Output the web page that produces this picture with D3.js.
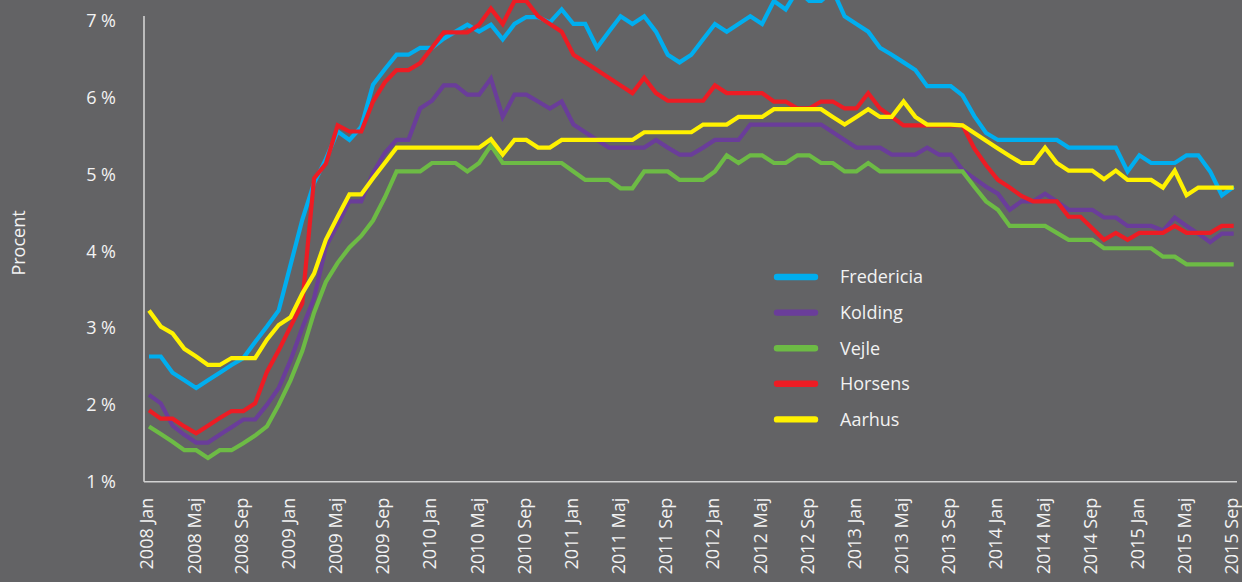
<!DOCTYPE html>
<html>
<head>
<meta charset="utf-8">
<script src="https://cdn.jsdelivr.net/npm/d3@7"></script>
<style>
  body { margin: 0; background: #636365; overflow: hidden; }
  svg { display: block; }
  text { font-family: "Open Sans", sans-serif; fill: #f2f2f2; }
</style>
</head>
<body>
<div id="chart"></div>
<script>
// Danish month names, years -> monthly categories 2008 Jan .. 2015 Sep
var monthNames = ["Jan", "Feb", "Mar", "Apr", "Maj", "Jun", "Jul", "Aug", "Sep", "Okt", "Nov", "Dec"];
var years = [2008, 2009, 2010, 2011, 2012, 2013, 2014, 2015];
var lastMonthOf2015 = 8; // Sep

// y axis ticks (percent)
var yTicks = [1, 2, 3, 4, 5, 6, 7];

// series names / colours (legend order, also draw order)
var cityNames = ["Fredericia", "Kolding", "Vejle", "Horsens", "Aarhus"];
var cityColors = ["#00aeef", "#6a3d9a", "#6dbb45", "#ed1c24", "#fff200"];

// values, one per month
var fredericia = [2.63, 2.63, 2.42, 2.32, 2.22, 2.32, 2.42, 2.52, 2.61, 2.82,
    3.02, 3.23, 3.82, 4.41, 4.89, 5.2, 5.56, 5.45, 5.62, 6.17,
    6.37, 6.56, 6.56, 6.65, 6.65, 6.77, 6.86, 6.95, 6.86, 6.95,
    6.76, 6.96, 7.05, 7.05, 6.98, 7.15, 6.96, 6.96, 6.65, 6.86,
    7.06, 6.96, 7.06, 6.86, 6.56, 6.46, 6.56, 6.76, 6.96, 6.86,
    6.96, 7.06, 6.96, 7.26, 7.15, 7.4, 7.26, 7.26, 7.4, 7.06,
    6.96, 6.86, 6.65, 6.56, 6.46, 6.36, 6.15, 6.15, 6.15, 6.03,
    5.76, 5.54, 5.45, 5.45, 5.45, 5.45, 5.45, 5.45, 5.35, 5.35,
    5.35, 5.35, 5.35, 5.04, 5.25, 5.15, 5.15, 5.15, 5.25, 5.25,
    5.04, 4.73, 4.84];

var kolding = [2.13, 2.02, 1.73, 1.61, 1.51, 1.51, 1.61, 1.71, 1.81, 1.81,
    2.0, 2.22, 2.58, 3.0, 3.39, 4.06, 4.35, 4.65, 4.65, 5.02,
    5.28, 5.45, 5.45, 5.86, 5.96, 6.16, 6.16, 6.04, 6.04, 6.25,
    5.75, 6.04, 6.04, 5.95, 5.86, 5.95, 5.65, 5.55, 5.45, 5.35,
    5.35, 5.35, 5.35, 5.45, 5.35, 5.26, 5.26, 5.35, 5.45, 5.45,
    5.45, 5.65, 5.65, 5.65, 5.65, 5.65, 5.65, 5.65, 5.55, 5.45,
    5.35, 5.35, 5.35, 5.26, 5.26, 5.26, 5.35, 5.26, 5.26, 5.06,
    4.95, 4.84, 4.75, 4.54, 4.65, 4.65, 4.75, 4.65, 4.54, 4.54,
    4.54, 4.44, 4.44, 4.33, 4.33, 4.33, 4.27, 4.44, 4.33, 4.23,
    4.12, 4.23, 4.23];

var vejle = [1.72, 1.62, 1.52, 1.41, 1.41, 1.31, 1.41, 1.41, 1.5, 1.6,
    1.72, 2.0, 2.32, 2.7, 3.2, 3.6, 3.85, 4.05, 4.2, 4.4,
    4.7, 5.04, 5.04, 5.04, 5.15, 5.15, 5.15, 5.04, 5.15, 5.38,
    5.15, 5.15, 5.15, 5.15, 5.15, 5.15, 5.04, 4.93, 4.93, 4.93,
    4.82, 4.82, 5.04, 5.04, 5.04, 4.93, 4.93, 4.93, 5.04, 5.25,
    5.15, 5.25, 5.25, 5.15, 5.15, 5.25, 5.25, 5.15, 5.15, 5.04,
    5.04, 5.15, 5.04, 5.04, 5.04, 5.04, 5.04, 5.04, 5.04, 5.04,
    4.84, 4.65, 4.54, 4.33, 4.33, 4.33, 4.33, 4.24, 4.15, 4.15,
    4.15, 4.04, 4.04, 4.04, 4.04, 4.04, 3.93, 3.93, 3.83, 3.83,
    3.83, 3.83, 3.83];

var horsens = [1.93, 1.82, 1.82, 1.72, 1.63, 1.73, 1.83, 1.92, 1.92, 2.02,
    2.43, 2.71, 3.02, 3.32, 4.95, 5.14, 5.64, 5.56, 5.56, 5.95,
    6.2, 6.36, 6.36, 6.45, 6.65, 6.85, 6.85, 6.85, 6.95, 7.16,
    6.96, 7.26, 7.26, 7.06, 6.96, 6.86, 6.56, 6.46, 6.36, 6.26,
    6.16, 6.06, 6.26, 6.06, 5.96, 5.96, 5.96, 5.96, 6.16, 6.06,
    6.06, 6.06, 6.06, 5.95, 5.95, 5.86, 5.86, 5.95, 5.95, 5.86,
    5.86, 6.06, 5.86, 5.75, 5.64, 5.64, 5.64, 5.64, 5.64, 5.64,
    5.34, 5.12, 4.93, 4.83, 4.72, 4.65, 4.65, 4.65, 4.45, 4.45,
    4.3, 4.15, 4.24, 4.15, 4.24, 4.24, 4.24, 4.33, 4.24, 4.24,
    4.24, 4.33, 4.33];

var aarhus = [3.23, 3.02, 2.93, 2.73, 2.63, 2.52, 2.52, 2.61, 2.61, 2.61,
    2.85, 3.04, 3.14, 3.45, 3.71, 4.15, 4.45, 4.74, 4.74, 4.95,
    5.15, 5.35, 5.35, 5.35, 5.35, 5.35, 5.35, 5.35, 5.35, 5.46,
    5.26, 5.45, 5.45, 5.35, 5.35, 5.45, 5.45, 5.45, 5.45, 5.45,
    5.45, 5.45, 5.55, 5.55, 5.55, 5.55, 5.55, 5.65, 5.65, 5.65,
    5.75, 5.75, 5.75, 5.85, 5.85, 5.85, 5.85, 5.85, 5.75, 5.65,
    5.75, 5.85, 5.75, 5.75, 5.95, 5.75, 5.65, 5.65, 5.65, 5.64,
    5.54, 5.44, 5.34, 5.24, 5.15, 5.15, 5.35, 5.15, 5.05, 5.05,
    5.05, 4.94, 5.05, 4.93, 4.93, 4.93, 4.83, 5.05, 4.73, 4.83,
    4.83, 4.83, 4.83];

var seriesValues = [fredericia, kolding, vejle, horsens, aarhus];

// build month categories
var months = [];
years.forEach(function (yr) {
    monthNames.forEach(function (m, mi) {
        if (yr < 2015 || mi <= lastMonthOf2015) months.push(yr + " " + m);
    });
});
// every 4th month gets a label
var xTickLabels = months.filter(function (d, i) { return i % 4 === 0; });

var svgWidth = 1242;
var svgHeight = 582;

var svg = d3.select("#chart")
    .append("svg")
    .attr("width", svgWidth)
    .attr("height", svgHeight);

svg.append("rect")
    .attr("width", svgWidth)
    .attr("height", svgHeight)
    .attr("fill", "#636365");

// scales
var xScale = d3.scalePoint()
    .domain(months)
    .range([149, 1233.7]);

var yScale = d3.scaleLinear()
    .domain([1, 7])
    .range([481.7, 20.9]);

var axisLeftX = 144;

// axis lines
svg.append("line")
    .attr("x1", axisLeftX).attr("x2", axisLeftX)
    .attr("y1", yScale(7) - 5).attr("y2", yScale(1))
    .attr("stroke", "#d2d2d2")
    .attr("stroke-width", 1.6);

svg.append("line")
    .attr("x1", axisLeftX).attr("x2", 1237)
    .attr("y1", yScale(1)).attr("y2", yScale(1))
    .attr("stroke", "#d2d2d2")
    .attr("stroke-width", 1.6);

// y axis labels
var leftAxis = d3.axisLeft(yScale)
    .tickValues(yTicks)
    .tickSize(0)
    .tickPadding(28)
    .tickFormat(function (d) { return d + " %"; });

var yAxisG = svg.append("g")
    .attr("transform", `translate(${axisLeftX}, 0)`)
    .call(leftAxis);
yAxisG.select(".domain").remove();
yAxisG.selectAll("text")
    .attr("fill", "#f2f2f2")
    .style("font-size", "18px")
    .style("font-family", "'Open Sans', sans-serif");

// x axis labels (rotated)
var bottomAxis = d3.axisBottom(xScale)
    .tickValues(xTickLabels)
    .tickSize(0);

var xAxisG = svg.append("g")
    .attr("transform", `translate(0, ${yScale(1)})`)
    .call(bottomAxis);
xAxisG.select(".domain").remove();
xAxisG.selectAll("text")
    .attr("transform", "rotate(-90)")
    .attr("x", -16)
    .attr("y", 0)
    .attr("dy", "0.22em")
    .attr("fill", "#f2f2f2")
    .style("text-anchor", "end")
    .style("font-size", "18px")
    .style("font-family", "'Open Sans', sans-serif");

// y axis title
svg.append("text")
    .attr("transform", "rotate(-90)")
    .attr("x", -243)
    .attr("y", 19)
    .attr("dy", "0.36em")
    .style("text-anchor", "middle")
    .style("font-size", "18px")
    .text("Procent");

// lines
var line = d3.line()
    .x(function (d, i) { return xScale(months[i]); })
    .y(function (d) { return yScale(d); });

svg.append("g")
    .selectAll("path")
    .data(seriesValues)
    .enter()
    .append("path")
    .attr("d", line)
    .attr("fill", "none")
    .attr("stroke", function (d, i) { return cityColors[i]; })
    .attr("stroke-width", 4.2)
    .attr("stroke-linejoin", "miter");

// legend
var legend = svg.append("g")
    .attr("transform", "translate(777, 277)");

var legendItems = legend.selectAll("g")
    .data(cityNames)
    .enter()
    .append("g")
    .attr("transform", function (d, i) { return `translate(0, ${i * 35.6})`; });

legendItems.append("line")
    .attr("x1", 0).attr("x2", 38)
    .attr("y1", 0).attr("y2", 0)
    .attr("stroke", function (d, i) { return cityColors[i]; })
    .attr("stroke-width", 6.4)
    .attr("stroke-linecap", "round");

legendItems.append("text")
    .attr("x", 63)
    .attr("y", 0)
    .attr("dy", "0.36em")
    .style("font-size", "18px")
    .text(function (d) { return d; });
</script>
</body>
</html>
